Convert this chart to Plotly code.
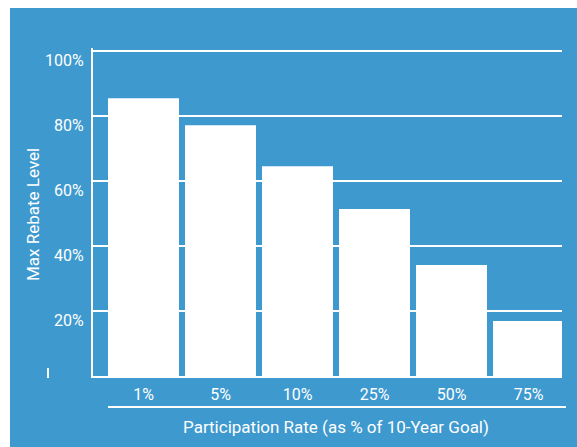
import plotly.graph_objects as go

categories = ["1%", "5%", "10%", "25%", "50%", "75%"]
rebate_levels = [85.5, 77.2, 64.6, 51.4, 34.2, 16.9]
y_ticks = [20, 40, 60, 80, 100]
y_tick_labels = ["20%", "40%", "60%", "80%", "100%"]

BLUE = "#3e99cf"
WHITE = "#ffffff"
FONT = "Roboto, Liberation Sans, sans-serif"

W, H = 577, 447
L, R, T, B = 93, 562, 48, 376
YMAX = 101


def px(x):
    return (x - L) / (R - L)


def py(y):
    return (B - y) / (B - T)


fig = go.Figure(
    go.Bar(
        x=list(range(len(categories))),
        y=rebate_levels,
        marker=dict(color=WHITE, line=dict(width=0)),
        hoverinfo="skip",
    )
)

fig.update_layout(
    width=W,
    height=H,
    margin=dict(l=L, r=W - R, t=T, b=H - B, pad=0),
    paper_bgcolor=BLUE,
    plot_bgcolor=BLUE,
    bargap=0.078,
    showlegend=False,
    font=dict(family=FONT, color=WHITE, size=15),
    xaxis=dict(
        range=[-0.656, 5.435],
        tickmode="array",
        tickvals=list(range(len(categories))),
        ticktext=categories,
        showgrid=False,
        zeroline=False,
        showline=True,
        linecolor=WHITE,
        linewidth=2,
        ticks="",
        ticklen=0,
        ticklabelstandoff=3,
        tickfont=dict(size=16, family=FONT, color=WHITE),
    ),
    yaxis=dict(
        range=[0, YMAX],
        tickmode="array",
        tickvals=y_ticks,
        ticktext=y_tick_labels,
        showgrid=True,
        gridcolor=WHITE,
        gridwidth=2,
        zeroline=False,
        showline=True,
        linecolor=WHITE,
        linewidth=2,
        ticks="",
        ticklen=0,
        ticklabelshift=9,
        ticklabelstandoff=4,
        tickfont=dict(size=16, family=FONT, color=WHITE),
    ),
    shapes=[
        # white page border on left and top
        dict(type="rect", xref="paper", yref="paper", x0=px(-5), x1=px(10),
             y0=py(460), y1=py(-5), fillcolor=WHITE, line=dict(width=0), layer="below"),
        dict(type="rect", xref="paper", yref="paper", x0=px(-5), x1=px(590),
             y0=py(8), y1=py(-5), fillcolor=WHITE, line=dict(width=0), layer="below"),
        # underline beneath category labels
        dict(type="line", xref="paper", yref="paper", x0=px(108), x1=px(566),
             y0=py(407), y1=py(407), line=dict(color=WHITE, width=2)),
        # small stray tick at left
        dict(type="line", xref="paper", yref="paper", x0=px(48), x1=px(48),
             y0=py(368), y1=py(378), line=dict(color=WHITE, width=2)),
    ],
    annotations=[
        dict(text="Participation Rate (as % of 10-Year Goal)", xref="paper", yref="paper",
             x=px(336), y=py(427), showarrow=False, xanchor="center", yanchor="middle",
             font=dict(size=17, family=FONT, color=WHITE)),
        dict(text="Max Rebate Level", xref="paper", yref="paper",
             x=px(33), y=py(215), showarrow=False, textangle=-90,
             xanchor="center", yanchor="middle",
             font=dict(size=17, family=FONT, color=WHITE)),
    ],
)

fig.write_html("out.html")
